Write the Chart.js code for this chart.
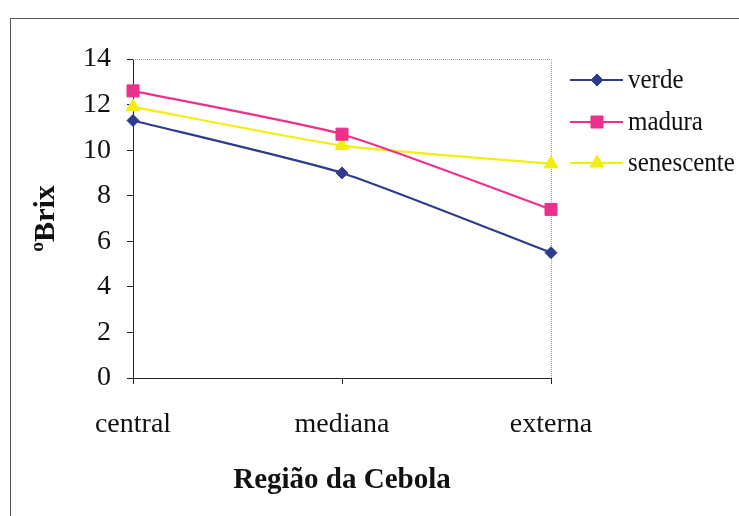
<!DOCTYPE html>
<html>
<head>
<meta charset="utf-8">
<script src="https://cdn.jsdelivr.net/npm/chart.js@4/dist/chart.umd.min.js"></script>
<style>
  html, body { margin: 0; padding: 0; background: #fff; }
  #wrap { position: relative; width: 739px; height: 516px; overflow: hidden; }
  #frame { position: absolute; left: 10px; top: 18px; width: 760px; height: 540px;
           border-left: 1.5px solid #555; border-top: 1.5px solid #555; }
  canvas { position: absolute; left: 0; top: 0; }
</style>
</head>
<body>
<div id="wrap">
  <div id="frame"></div>
  <canvas id="c" width="739" height="516"></canvas>
</div>
<script>
// Soluble solids (ºBrix) by onion region for three maturity stages
const regions = ['central', 'mediana', 'externa'];
const verde = [11.3, 9.0, 5.5];
const madura = [12.6, 10.7, 7.4];
const senescente = [11.9, 10.2, 9.4];
const yTicks = [0, 2, 4, 6, 8, 10, 12, 14];

const SERIF = '"Liberation Serif", "Times New Roman", serif';

// Legend with a line segment through each marker, drawn to the right of the plot
const sideLegend = {
  id: 'sideLegend',
  afterDraw(chart) {
    const ctx = chart.ctx;
    const rows = [80, 122, 163];
    chart.data.datasets.forEach((ds, i) => {
      const y = rows[i];
      ctx.save();
      ctx.strokeStyle = ds.borderColor;
      ctx.lineWidth = 2;
      ctx.beginPath();
      ctx.moveTo(570, y);
      ctx.lineTo(623, y);
      ctx.stroke();
      ctx.fillStyle = ds.pointBackgroundColor;
      ctx.strokeStyle = ds.pointBorderColor;
      ctx.lineWidth = 1;
      Chart.helpers.drawPoint(ctx, {
        pointStyle: ds.pointStyle, radius: ds.pointRadius, rotation: 0, borderWidth: 1
      }, 597, y);
      ctx.fillStyle = '#111';
      ctx.font = '25px ' + SERIF;
      ctx.textBaseline = 'middle';
      ctx.textAlign = 'left';
      ctx.translate(628, y + 1);
      ctx.scale(1, 1.1);
      ctx.fillText(ds.label, 0, 0);
      ctx.restore();
    });
  }
};

// Dotted top and right edges of the plot area
const plotFrame = {
  id: 'plotFrame',
  beforeDatasetsDraw(chart) {
    const { left, right, top, bottom } = chart.chartArea;
    const ctx = chart.ctx;
    ctx.save();
    ctx.strokeStyle = '#9a9a9a';
    ctx.lineWidth = 1;
    ctx.setLineDash([1, 1]);
    ctx.beginPath();
    ctx.moveTo(left, top + 0.5);
    ctx.lineTo(right + 0.5, top + 0.5);
    ctx.lineTo(right + 0.5, bottom);
    ctx.stroke();
    ctx.restore();
  }
};

new Chart(document.getElementById('c'), {
  type: 'line',
  data: {
    labels: regions,
    datasets: [
      { label: 'verde', data: verde, borderColor: '#2d3c8c', pointBackgroundColor: '#2d3c8c',
        pointBorderColor: '#2d3c8c', pointStyle: 'rectRot', pointRadius: 6 },
      { label: 'madura', data: madura, borderColor: '#ee2f8c', pointBackgroundColor: '#ee2f8c',
        pointBorderColor: '#ee2f8c', pointStyle: 'rect', pointRadius: 8.5 },
      { label: 'senescente', data: senescente, borderColor: '#f4ee10', pointBackgroundColor: '#f4ee10',
        pointBorderColor: '#f4ee10', pointStyle: 'triangle', pointRadius: 8 }
    ].map(d => Object.assign({ borderWidth: 2.2, tension: 0.18, clip: false, pointBorderWidth: 1 }, d))
  },
  options: {
    responsive: false,
    animation: false,
    layout: { padding: { left: 0, top: 59, right: 188, bottom: 0 } },
    plugins: { legend: { display: false }, tooltip: { enabled: false } },
    scales: {
      x: {
        type: 'category',
        offset: false,
        afterFit(s) { s.height = 138; },
        grid: { display: true, drawOnChartArea: false, drawTicks: true, tickLength: 6, color: '#222', offset: false },
        border: { display: true, color: '#222', width: 1 },
        ticks: { color: '#111', padding: 24, font: { family: SERIF, size: 28 } },
        title: { display: true, text: 'Região da Cebola', color: '#111',
                 font: { family: SERIF, size: 29, weight: 'bold' }, padding: { top: 0, bottom: 18 } }
      },
      y: {
        min: 0, max: 14,
        afterFit(s) { s.width = 133; },
        afterBuildTicks(s) { s.ticks = yTicks.map(v => ({ value: v })); },
        grid: { display: true, drawOnChartArea: false, drawTicks: true, tickLength: 6, color: '#222' },
        border: { display: true, color: '#222', width: 1 },
        ticks: { color: '#111', padding: 16, font: { family: SERIF, size: 28 } },
        title: { display: true, text: 'ºBrix', color: '#111',
                 font: { family: SERIF, size: 30, weight: 'bold' }, padding: { top: 28, bottom: 0 } }
      }
    }
  },
  plugins: [plotFrame, sideLegend]
});
</script>
</body>
</html>
